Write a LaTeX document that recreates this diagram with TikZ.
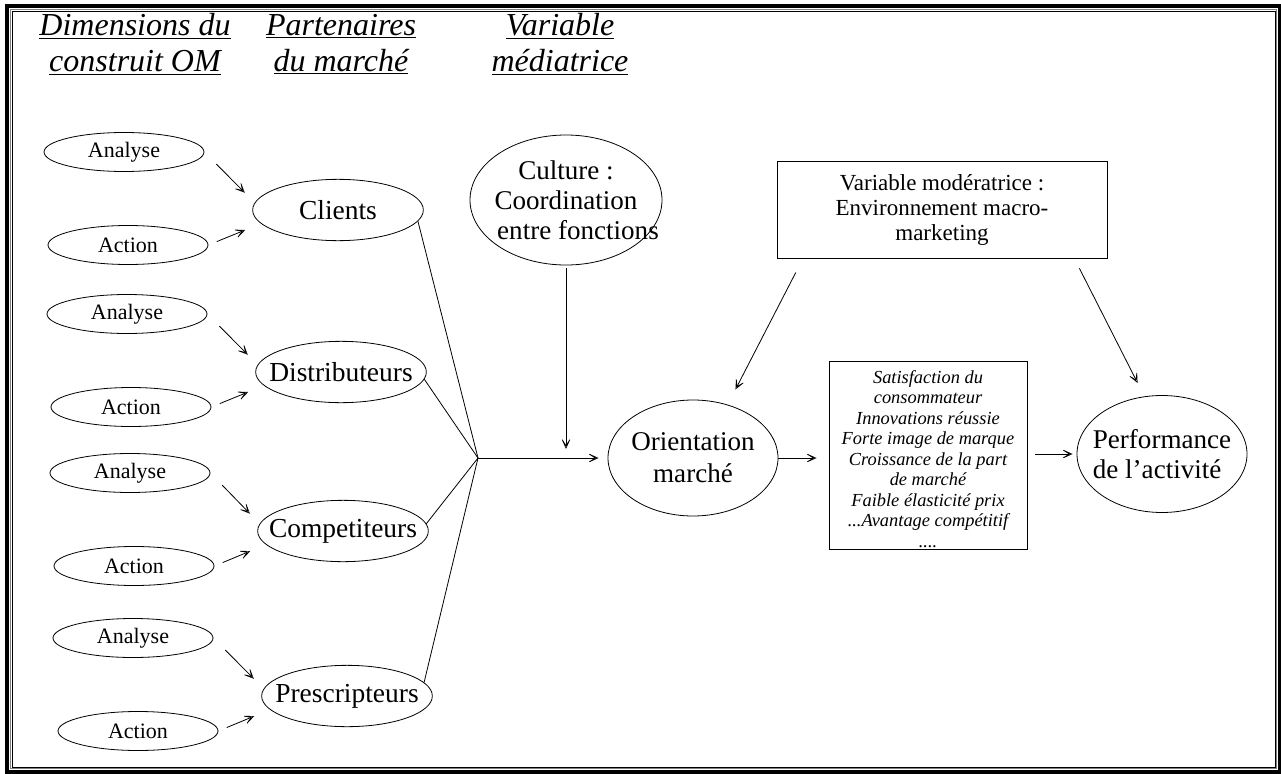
\documentclass[tikz,border=0pt]{standalone}
\usepackage{fontspec}
\setmainfont{Liberation Serif}
\usetikzlibrary{shapes.geometric,arrows.meta,calc}
\begin{document}
\begin{tikzpicture}[x=0.75pt,y=-0.75pt,
  ell/.style={draw, ellipse, inner sep=-40pt, line width=0.6pt},
  smallell/.style={ell, font=\fontsize{16.5}{19}\selectfont, minimum width=120pt, minimum height=29.25pt},
  partner/.style={ell, font=\fontsize{20.6}{24}\selectfont, minimum width=128pt, minimum height=46pt},
  bigell/.style={ell, font=\fontsize{20.3}{23}\selectfont, align=center},
  arr/.style={line width=0.6pt, -{Stealth[open, length=10pt, width=9pt, inset=7pt, line width=0.5pt]}},
  ln/.style={line width=0.6pt},
  hdr/.style={align=center, font=\fontsize{24}{27}\selectfont\itshape},
]
\useasboundingbox (0,0) rectangle (1281,774);
% border
\draw[line width=3pt] (7,6) rectangle (1279.5,771.7);
\draw[gray, line width=0.6pt] (10.3,9.8) rectangle (1276.8,768.6);
\draw[line width=0.75pt] (12.3,11.8) rectangle (1275.5,767.2);

% headers
\node[hdr] (h1) at (135,44) {\underline{Dimensions du}\\\underline{construit OM}};
\node[hdr] (h2) at (341,44) {\underline{Partenaires}\\\underline{du marché}};
\node[hdr] (h3) at (560,44) {\underline{Variable}\\\underline{médiatrice}};

% groups
\foreach \i/\py/\ax/\cx/\pX/\lab in {1/210/124/128/338/Clients, 2/372/127/131/341/Distributeurs, 3/531/130/134/343/Competiteurs, 4/696/133/138/347/Prescripteurs}{
  \node[partner] (p\i) at (\pX,\py) {\lab};
  \node[smallell] (a\i) at (\ax,\py-58) {Analyse};
  \node[smallell] (c\i) at (\cx,\py+35) {Action};
  \draw[arr, shorten <=12.75pt, shorten >=10.5pt] (a\i.east) -- (p\i.175);
  \draw[arr, shorten <=6.75pt, shorten >=12.75pt] (c\i.east) -- (p\i.190);
}

\coordinate (j) at (478,458);
\draw[ln] (p1.-8) -- (j);
\draw[ln] (p2.-5) -- (j);
\draw[ln] (p3.5) -- (j);
\draw[ln] (p4.10) -- (j);

% culture
\node[bigell, minimum width=144pt, minimum height=97.5pt, font=\fontsize{20.3}{22.5}\selectfont] (cul) at (566,200)
  {Culture :\\Coordination\hspace*{10pt}\\\hspace*{18pt}entre fonctions};
\coordinate (cv) at (566,449);
\draw[arr, shorten <=2pt] (cul.south) -- (cv);

% orientation
\node[bigell, minimum width=127.5pt, minimum height=87pt, font=\fontsize{20.3}{24}\selectfont] (ori) at (693,458) {Orientation\\marché};
\draw[arr, shorten >=6.75pt] (j) -- (ori.west);

% results box
\node[draw, line width=0.6pt, minimum width=148.5pt, minimum height=141pt, inner sep=0pt, align=center,
  font=\fontsize{13.8}{15.4}\selectfont\itshape] (res) at (928,455)
  {\rule{0pt}{15.7pt}Satisfaction du\\consommateur\\Innovations réussie\\Forte image de marque\\Croissance de la part\\de marché\\Faible élasticité prix\\...Avantage compétitif\\....};

% moderator
\node[draw, line width=0.75pt, minimum width=247.5pt, minimum height=72.75pt, inner sep=0pt, align=center,
  font=\fontsize{17.25}{18.75}\selectfont] (mod) at (942,209.5)
  {Variable modératrice :\\Environnement macro-\\marketing};

% performance
\node[bigell, align=left, minimum width=127.5pt, minimum height=87.75pt, font=\fontsize{20.3}{22.5}\selectfont] (perf) at (1162,454) {Performance\\de l’activité};

\coordinate (m1) at ($(mod.south west)!0.08!(mod.south east)$);
\coordinate (m2) at ($(mod.south west)!0.9!(mod.south east)$);
\draw[arr, shorten <=11.85pt, shorten >=12.75pt] (m1) -- (ori.57);
\draw[arr, shorten <=8.25pt, shorten >=11.25pt] (m2) -- (perf.107);
\draw[arr, shorten >=9pt] (ori.east) -- (ori.east -| res.west);
\draw[arr, shorten <=6pt, shorten >=3pt] (res.east |- perf.west) -- (perf.west);
\end{tikzpicture}
\end{document}
